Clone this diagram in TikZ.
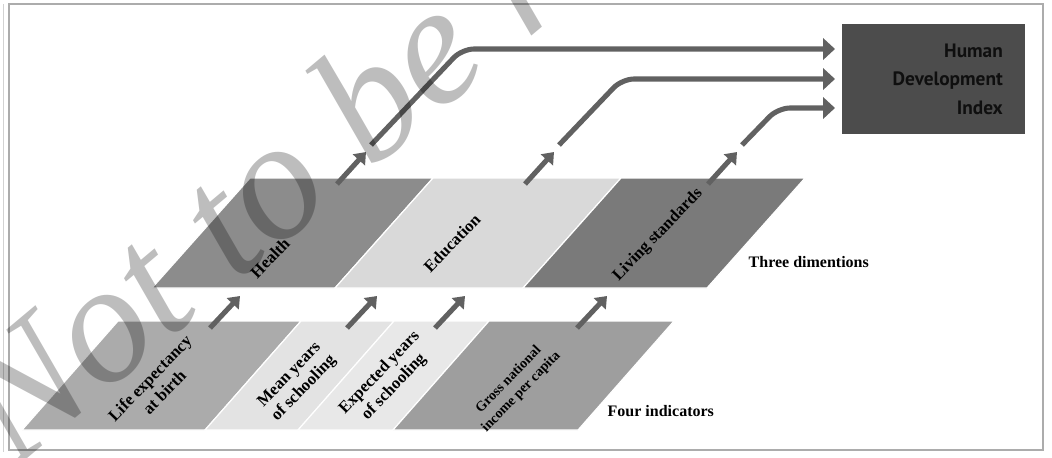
\documentclass[tikz,border=0pt]{standalone}
\usepackage{fontspec}
\setmainfont{Liberation Serif}
\newfontfamily\hdifont{PT Sans}
\usetikzlibrary{arrows.meta, positioning}
\definecolor{arrowgray}{gray}{0.38}
\definecolor{lifegray}{gray}{0.67}
\definecolor{meangray}{gray}{0.89}
\definecolor{expgray}{gray}{0.91}
\definecolor{gnigray}{gray}{0.62}
\definecolor{healthgray}{gray}{0.55}
\definecolor{edugray}{gray}{0.85}
\definecolor{livinggray}{gray}{0.48}
\definecolor{hdigray}{gray}{0.30}
\definecolor{hditext}{gray}{0.06}

\begin{document}
\begin{tikzpicture}[x=0.75pt, y=-0.75pt,
  slab/.style={draw=white, line width=0.9pt},
  flow/.style={draw=arrowgray, line width=3.8pt, -{Triangle[length=9pt,width=16pt]}},
  step arrow/.style={draw=arrowgray, line width=3.8pt, -{Triangle[length=8pt,width=12pt]}},
  lbl/.style={font=\bfseries\fontsize{12.5}{15}\selectfont, align=center, rotate=46},
  title/.style={font=\bfseries\fontsize{12}{14}\selectfont, anchor=west},
  hdibox/.style={fill=hdigray, minimum width=137pt, minimum height=82pt,
    text width=104pt, align=right, text=hditext,
    font=\hdifont\bfseries\fontsize{14.5}{21.4}\selectfont},
  wmark/.style={text=black, text opacity=0.26, inner sep=0pt,
    font=\itshape\fontsize{128}{128}\selectfont}]
  \useasboundingbox (0,0) rectangle (1052,457);
  % Frame
  \draw[gray!35, line width=0.8pt] (3.5,4) -- (3.5,452);
  \draw[gray!65, line width=1.6pt] (9,4) rectangle (1043,450);

  % Four indicators
  \fill[slab, fill=lifegray] (22,430) -- (205,430) -- (301,321) -- (118,321) -- cycle;
  \fill[slab, fill=meangray] (205,430) -- (298,430) -- (394,321) -- (301,321) -- cycle;
  \fill[slab, fill=expgray] (298,430) -- (393,430) -- (489,321) -- (394,321) -- cycle;
  \fill[slab, fill=gnigray] (393,430) -- (578,430) -- (674,321) -- (489,321) -- cycle;
  \node[lbl] (life) at (157,385) {Life expectancy\\at birth};
  \node[lbl] (mean) at (297,382) {Mean years\\of schooling};
  \node[lbl] (expected) at (387,380) {Expected years\\of schooling};
  \node[lbl, font=\bfseries\fontsize{10.5}{13}\selectfont] (gni) at (515,386) {Gross national\\income per capita};
  \node[title] (four) at (603,411) {Four indicators};

  % Three dimensions
  \fill[slab, fill=healthgray] (152,288) -- (335,288) -- (433,178) -- (250,178) -- cycle;
  \fill[slab, fill=edugray] (335,288) -- (523,288) -- (621,178) -- (433,178) -- cycle;
  \fill[slab, fill=livinggray] (523,288) -- (707,288) -- (805,178) -- (621,178) -- cycle;
  \node[lbl] (health) at (270,258) {Health};
  \node[lbl] (education) at (452,243) {Education};
  \node[lbl] (living) at (658,235) {Living standards};
  \node[title] (three) at (744,262) {Three dimentions};

  % Index
  \node[hdibox] (hdi) at (933.5,79) {Human\\Development\\Index};

  % Arrows between rows
  \coordinate (lifeT) at (210,328);   \coordinate (lifeH) at (240,296);
  \coordinate (meanT) at (347,328);   \coordinate (meanH) at (377,296);
  \coordinate (expT) at (435,328);    \coordinate (expH) at (465,296);
  \coordinate (gniT) at (577,328);    \coordinate (gniH) at (607,296);
  \draw[step arrow] (lifeT) -- (lifeH);
  \draw[step arrow] (meanT) -- (meanH);
  \draw[step arrow] (expT) -- (expH);
  \draw[step arrow] (gniT) -- (gniH);

  % Arrows to the index
  \coordinate (healthT) at (337,184);  \coordinate (healthH) at (366,152);
  \coordinate (eduT) at (525,184);     \coordinate (eduH) at (554,152);
  \coordinate (livingT) at (708,184);  \coordinate (livingH) at (737,152);
  \draw[step arrow] (healthT) -- (healthH);
  \draw[step arrow] (eduT) -- (eduH);
  \draw[step arrow] (livingT) -- (livingH);
  \coordinate (healthA) at (371,145);  \coordinate (healthB) at (462,49);
  \coordinate (eduA) at (559,145);     \coordinate (eduB) at (622,79);
  \coordinate (livingA) at (742,145);  \coordinate (livingB) at (778,108);
  \coordinate (inA) at (835,49);
  \coordinate (inB) at (835,79);
  \coordinate (inC) at (835,108);
  \draw[flow, rounded corners=9pt] (healthA) -- (healthB) -- (inA);
  \draw[flow, rounded corners=9pt] (eduA) -- (eduB) -- (inB);
  \draw[flow, rounded corners=9pt] (livingA) -- (livingB) -- (inC);

  % Watermark
  \begin{scope}
    \clip (0,0) rectangle (1052,457);
    \node[wmark, anchor=base west, rotate=40] (stamp) at (14,470) {Not to be r};
  \end{scope}
\end{tikzpicture}
\end{document}
